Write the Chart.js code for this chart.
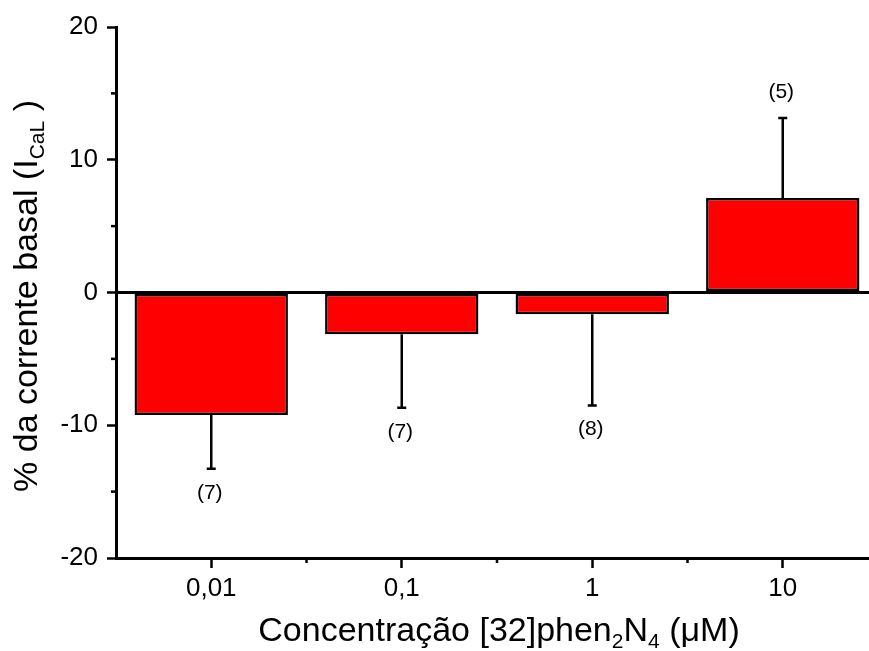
<!DOCTYPE html>
<html><head><meta charset="utf-8">
<script src="https://cdn.jsdelivr.net/npm/chart.js@4.4.0/dist/chart.umd.min.js"></script>
<style>
html,body{margin:0;padding:0;overflow:hidden;background:#fff;width:869px;height:651px}
#wrap{position:absolute;left:0;top:0;width:890px;height:651px}
canvas{display:block}
</style>
</head><body><div id="wrap"><canvas id="c" width="890" height="651"></canvas></div>
<script>
// ---- data ----
const categories = ['0,01', '0,1', '1', '10'];
const meanValues = [-9.22, -3.14, -1.63, 7.12];
const errorValues = [4.06, 5.55, 6.88, 6.03];
const nLabels = ['(7)', '(7)', '(8)', '(5)'];
const yTickValues = [-20, -10, 0, 10, 20];
const yMinorTickValues = [-15, -5, 5, 15];
const xTitleParts = [['Concentração [32]phen', false], ['2', true], ['N', false], ['4', true], [' (\u03BCM)', false]];
const yTitleParts = [['% da corrente basal (I', false], ['CaL', true], [' )', false]];

const FONT = '"Liberation Sans", Arial, Helvetica, sans-serif';

function drawRich(ctx, parts, size, subSize, subDrop) {
  let total = 0;
  const widths = parts.map(([t, sub]) => {
    ctx.font = (sub ? subSize : size) + 'px ' + FONT;
    const w = ctx.measureText(t).width;
    total += w;
    return w;
  });
  let x = -total / 2;
  ctx.textBaseline = 'alphabetic';
  ctx.textAlign = 'left';
  parts.forEach(([t, sub], i) => {
    ctx.font = (sub ? subSize : size) + 'px ' + FONT;
    ctx.fillText(t, x, sub ? subDrop : 0);
    x += widths[i];
  });
}

const extrasPlugin = {
  id: 'extras',
  afterDatasetsDraw(chart) {
    const ctx = chart.ctx;
    const meta = chart.getDatasetMeta(0);
    const ys = chart.scales.y;
    ctx.save();
    ctx.strokeStyle = '#000';
    ctx.lineWidth = 2.5;
    ctx.fillStyle = '#000';
    meta.data.forEach((bar, i) => {
      const v = meanValues[i];
      const e = errorValues[i];
      const end = v >= 0 ? v + e : v - e;
      const x = bar.x;
      const y0 = ys.getPixelForValue(v);
      const y1 = ys.getPixelForValue(end);
      ctx.beginPath();
      ctx.moveTo(x, y0);
      ctx.lineTo(x, y1);
      ctx.moveTo(x - 4.5, y1);
      ctx.lineTo(x + 4.5, y1);
      ctx.stroke();
      ctx.font = '21px ' + FONT;
      ctx.textAlign = 'center';
      ctx.textBaseline = 'middle';
      const ly = v >= 0 ? y1 - 26 : y1 + 24;
      ctx.fillText(nLabels[i], x - 1.5, ly);
    });
    ctx.restore();
  },
  afterDraw(chart) {
    const ctx = chart.ctx;
    const ca = chart.chartArea;
    const ys = chart.scales.y;
    const xs = chart.scales.x;
    ctx.save();
    ctx.strokeStyle = '#000';
    ctx.lineWidth = 2.5;
    // minor y ticks
    yMinorTickValues.forEach(v => {
      const y = ys.getPixelForValue(v);
      ctx.beginPath();
      ctx.moveTo(ca.left, y);
      ctx.lineTo(ca.left - 5, y);
      ctx.stroke();
    });
    // minor x ticks (between categories)
    for (let i = 0; i < categories.length; i++) {
      const x = (xs.getPixelForValue(i) + (i + 1 < categories.length ? xs.getPixelForValue(i + 1) : 2 * xs.getPixelForValue(i) - xs.getPixelForValue(i - 1))) / 2;
      ctx.beginPath();
      ctx.moveTo(x, ca.bottom);
      ctx.lineTo(x, ca.bottom + 5);
      ctx.stroke();
    }
    // titles
    ctx.fillStyle = '#000';
    ctx.save();
    ctx.translate(499, 641);
    drawRich(ctx, xTitleParts, 34, 21, 7);
    ctx.restore();
    ctx.save();
    ctx.translate(37, 296);
    ctx.rotate(-Math.PI / 2);
    drawRich(ctx, yTitleParts, 34, 21, 7);
    ctx.restore();
    ctx.restore();
  }
};

new Chart(document.getElementById('c'), {
  type: 'bar',
  data: {
    labels: categories,
    datasets: [{
      data: meanValues,
      backgroundColor: '#ff0000',
      borderColor: '#000',
      borderWidth: 2.5,
      borderSkipped: false,
      categoryPercentage: 1.0,
      barPercentage: 0.805
    }]
  },
  options: {
    responsive: false,
    animation: false,
    devicePixelRatio: 1,
    layout: { padding: { top: 27, right: 12, left: 0, bottom: 0 } },
    plugins: { legend: { display: false }, tooltip: { enabled: false } },
    scales: {
      x: {
        offset: true,
        grid: { offset: false, drawOnChartArea: false, drawTicks: true, tickLength: 10, tickColor: '#000', tickWidth: 2.5 },
        border: { display: true, color: '#000', width: 3 },
        ticks: { color: '#000', font: { family: FONT, size: 26 }, padding: 5, maxRotation: 0 },
        afterFit(s) { s.height = 93; }
      },
      y: {
        min: -20, max: 20,
        afterBuildTicks(s) { s.ticks = yTickValues.map(v => ({ value: v })); },
        grid: {
          color: c => (c.tick && c.tick.value === 0) ? '#000' : 'rgba(0,0,0,0)',
          lineWidth: 3,
          drawTicks: true, tickLength: 9, tickColor: '#000', tickWidth: 2.5
        },
        border: { display: true, color: '#000', width: 3 },
        ticks: { color: '#000', font: { family: FONT, size: 26 }, padding: 9 },
        afterFit(s) { s.width = 116; }
      }
    }
  },
  plugins: [extrasPlugin]
});
</script>
</body></html>
